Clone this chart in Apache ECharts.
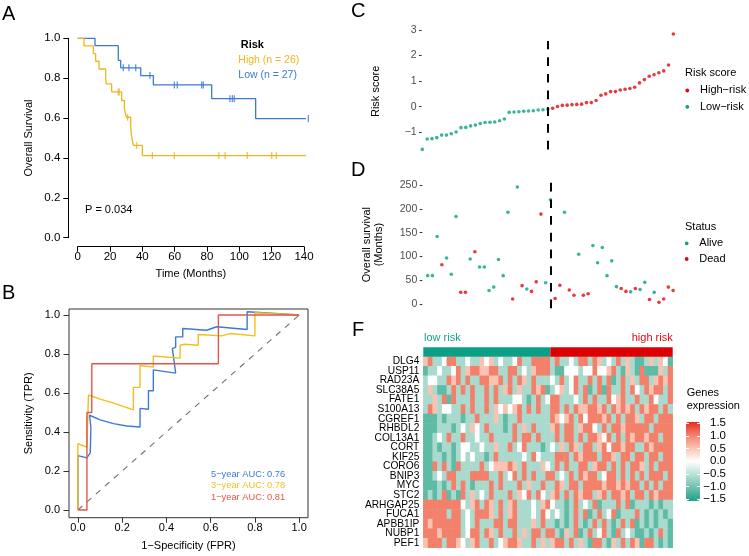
<!DOCTYPE html>
<html><head><meta charset="utf-8">
<script src="https://cdn.jsdelivr.net/npm/echarts@6/dist/echarts.min.js"></script>
<style>html,body{margin:0;padding:0;background:#fff}#c{width:749px;height:556px}</style>
</head><body><div id="c"></div>
<script>
// ---------- Panel A: Kaplan-Meier ----------
const kmHighTime = [0, 3.9, 9.7, 11.1, 13.2, 17.3, 17.6, 21.0, 27.2, 28.9, 30.1, 32.8, 33.3, 34.4, 40.0, 142.7];
const kmHighSurv = [1, 0.962, 0.923, 0.885, 0.846, 0.808, 0.771, 0.731, 0.688, 0.645, 0.604, 0.556, 0.509, 0.463, 0.412, 0.412];
const kmHighCensTime = [25.1, 25.7, 30.9, 36.5, 46.2, 59.8, 87.3, 91.2, 104.9, 120.0, 122.9];
const kmHighCensSurv = [0.731, 0.731, 0.604, 0.463, 0.412, 0.412, 0.412, 0.412, 0.412, 0.412, 0.412];
const kmLowTime = [0, 10.7, 25.1, 26.6, 39.0, 46.8, 82.9, 110.1, 142.7];
const kmLowSurv = [1, 0.963, 0.889, 0.852, 0.813, 0.766, 0.697, 0.597, 0.597];
const kmLowCensTime = [28.2, 31.7, 35.9, 44.7, 59.8, 61.6, 76.7, 77.7, 94.2, 95.7, 96.9, 142.7];
const kmLowCensSurv = [0.852, 0.852, 0.852, 0.813, 0.766, 0.766, 0.766, 0.766, 0.697, 0.697, 0.697, 0.597];

// ---------- Panel B: ROC ----------
const roc5Fpr = [0, 0, 0.041, 0.056, 0.059, 0.053, 0.101, 0.161, 0.221, 0.281, 0.281, 0.319, 0.319, 0.341, 0.341, 0.442, 0.427, 0.442, 0.442, 0.474, 0.474, 0.582, 0.627, 0.765, 0.765, 0.838, 1];
const roc5Tpr = [0, 0.279, 0.267, 0.293, 0.422, 0.486, 0.462, 0.443, 0.431, 0.426, 0.521, 0.517, 0.612, 0.612, 0.719, 0.702, 0.828, 0.836, 0.888, 0.888, 0.931, 0.922, 0.940, 0.926, 1.017, 1.012, 1];
const roc3Fpr = [0, 0, 0.041, 0.048, 0.101, 0.176, 0.251, 0.251, 0.281, 0.281, 0.341, 0.341, 0.462, 0.462, 0.484, 0.544, 0.544, 0.65, 0.687, 0.8, 0.8, 1];
const roc3Tpr = [0, 0.34, 0.322, 0.59, 0.569, 0.543, 0.514, 0.629, 0.629, 0.741, 0.733, 0.79, 0.779, 0.845, 0.85, 0.845, 0.9, 0.893, 0.905, 0.893, 1.012, 1];
const roc1Fpr = [0, 0.041, 0.041, 0.063, 0.063, 0.635, 0.635, 1];
const roc1Tpr = [0, 0, 0.5, 0.5, 0.75, 0.75, 1, 1];
const rocTicks = [0, 0.2, 0.4, 0.6, 0.8, 1.0];
const aucLabels = ['5\u2212year AUC: 0.76', '3\u2212year AUC: 0.78', '1\u2212year AUC: 0.81'];

// ---------- Panel C: risk score ----------
const lowRiskScore = [-1.67,-1.26,-1.25,-1.21,-1.11,-1.11,-1.06,-0.99,-0.82,-0.81,-0.75,-0.72,-0.66,-0.62,-0.61,-0.60,-0.55,-0.48,-0.22,-0.21,-0.20,-0.18,-0.17,-0.16,-0.13,-0.12,-0.09];
const highRiskScore = [-0.06,0.01,0.05,0.06,0.08,0.09,0.10,0.16,0.16,0.24,0.45,0.50,0.59,0.59,0.65,0.68,0.71,0.76,0.93,1.06,1.19,1.25,1.33,1.40,1.63,2.84];
const riskTicks = [-1, 0, 1, 2, 3];

// ---------- Panel D: survival status ----------
const survMonths = [60,60,142,83,97,63,184,25,25,95,110,78,78,29,36,94,60,193,11,246,39,32,27,47,189,45,219,12,40,193,30,19,105,19,22,123,87,119,60,91,37,33,27,26,33,31,46,10,25,4,11,36,29];
const survStatus = [0,0,0,1,0,0,0,1,1,0, 1,0,0,0,0,0,0,0,1,0, 1,0,1,1,1,0,0,1,1,0, 1,1,0,1,1,0,0,0,0,0, 0,1,1,0,1,0,0,1,0,1, 1,1,1];
const survTicks = [0, 50, 100, 150, 200, 250];

// ---------- Panel F: heatmap ----------
const genes = ['DLG4','USP11','RAD23A','SLC38A5','FATE1','S100A13','CGREF1','RHBDL2','COL13A1','CORT','KIF25','CORO6','BNIP3','MYC','STC2','ARHGAP25','FUCA1','APBB1IP','NUBP1','PEF1'];
const exprDLG4 = [0.5,1,-0.6,-0.6,0,1,1,-0.6,-0.6,0,-0.6,-0.6,0.5,0,0.5,-0.6,0,-0.6,-0.6,0,1,-0.6,-0.6,1,1,1,1,-0.6,1,-0.6,-0.6,0,-0.6,1,1,-0.6,1,0.5,-0.6,0,-0.6,1,-0.6,0.5,-0.6,-1.1,-1.1,-0.6,0.5,-0.6,0.5,0,-1.1];
const exprUSP11 = [-1.1,-0.6,-0.6,0,-0.6,-0.6,0,1,-0.6,0.5,1,1,0.5,0.5,1,1,-0.6,-0.6,1,1,-0.6,0,-0.6,0.5,1,1,1,-0.6,-1.1,-1.1,0,0,0,-0.6,0,0,1,0,0,0.5,1,-0.6,-1.1,0.5,-0.6,-1.1,1,-1.1,-1.1,-1.1,0.5,-0.6,1];
const exprRAD23A = [-0.6,0,0,-0.6,-0.6,1,0.5,1,-0.6,1,-0.6,-0.6,1,1,0.5,0.5,1,-0.6,1,-0.6,1,0.5,-0.6,1,-0.6,-0.6,-0.6,0,-0.6,1,-0.6,0,1,-0.6,-0.6,1,-0.6,1,-0.6,1,-1.1,-0.6,1,-0.6,0.5,-0.6,1,1,-0.6,0.5,1,0.5,1];
const exprSLC38A5 = [-0.6,0.5,-0.6,-1.1,-1.1,-0.6,1,-0.6,1,-0.6,1,-0.6,-0.6,1,-0.6,1,-0.6,0.5,1,-0.6,0.5,-0.6,-0.6,1,0.5,1,-1.1,-0.6,0,0.5,-0.6,0,1,-0.6,1,-1.1,-0.6,1,-1.1,1,-0.6,-0.6,1,-0.6,1,0,-0.6,1,0.5,1,1,-0.6,1];
const exprFATE1 = [-0.6,-0.6,0.5,-0.6,1,-1.1,1,-0.6,-0.6,-0.6,1,-0.6,-0.6,1,-0.6,1,-0.6,-0.6,-0.6,0,0,-0.6,-1.1,-0.6,1,-0.6,0,1,1,-0.6,-0.6,-0.6,0,-0.6,1,-0.6,1,-0.6,-0.6,1,0,0.5,1,-0.6,-0.6,1,-0.6,-0.6,1,0,-0.6,-0.6,1];
const exprS100A13 = [-0.6,1,0.5,-0.6,0,0,-0.6,-0.6,1,-0.6,1,-0.6,-0.6,1,-0.6,0.5,0,0.5,0,0.5,1,-0.6,1,-0.6,1,-0.6,-0.6,1,1,-0.6,1,-0.6,1,0.5,0.5,1,1,0.5,1,-0.6,1,0.5,1,0.5,1,-0.6,1,0.5,1,1,-0.6,1,-0.6];
const exprCGREF1 = [-1.1,-1.1,-1.1,-0.6,-1.1,-0.6,-0.6,-0.6,-1.1,-0.6,-0.6,1,-0.6,-0.6,-0.6,0.5,-0.6,-1.1,-0.6,-0.6,1,-0.6,-0.6,-0.6,-0.6,-0.6,-0.6,1,0.5,0,0.5,1,-0.6,1,0,1,1,1,0.5,1,-0.6,1,-0.6,1,1,0.5,-0.6,1,1,-0.6,1,1,1];
const exprRHBDL2 = [-1.1,-1.1,-1.1,-0.6,-0.6,-0.6,-1.1,-0.6,0,-0.6,0.5,0,-0.6,1,-0.6,-0.6,-0.6,-1.1,-0.6,1,-0.6,0.5,-0.6,1,-0.6,-0.6,-0.6,0.5,1,-0.6,1,1,-0.6,0.5,1,1,0,-0.6,1,-0.6,1,1,0.5,1,1,1,1,1,-0.6,1,1,1,1];
const exprCOL13A1 = [-1.1,-1.1,-0.6,0,-0.6,1,-0.6,-0.6,1,-0.6,-0.6,0,-0.6,-0.6,1,-0.6,-0.6,-0.6,-0.6,1,-0.6,1,1,-0.6,1,-0.6,-0.6,-0.6,1,-0.6,1,1,-0.6,1,-0.6,1,1,0.5,0,1,-0.6,1,-0.6,1,0.5,1,1,0.5,1,1,-0.6,1,1];
const exprCORT = [-1.1,-1.1,-0.6,-1.1,-0.6,-0.6,-1.1,-0.6,0,0,-0.6,-0.6,0,-0.6,-0.6,0.5,-0.6,-0.6,1,-0.6,0,1,-0.6,-0.6,-0.6,-1.1,-0.6,0,-0.6,0.5,-0.6,1,0.5,-0.6,1,1,-0.6,0.5,1,0,1,1,0.5,1,1,-0.6,-0.6,1,0.5,1,1,1,1];
const exprKIF25 = [-1.1,-1.1,-0.6,-0.6,-1.1,-0.6,-1.1,-0.6,0,-0.6,0,-0.6,-0.6,-1.1,-0.6,1,-0.6,-0.6,-0.6,-0.6,-0.6,0,-0.6,1,0,-0.6,-0.6,-0.6,1,1,1,-0.6,1,0.5,1,1,1,-0.6,1,1,0.5,-0.6,1,1,-0.6,1,1,-0.6,1,1,-0.6,1,1];
const exprCORO6 = [-1.1,-1.1,1,-0.6,1,-0.6,-1.1,1,-0.6,-0.6,-0.6,-0.6,1,-0.6,0,0.5,0.5,0.5,1,0.5,-0.6,1,-0.6,-0.6,-0.6,0.5,0,-0.6,1,-0.6,1,-0.6,-0.6,1,1,-0.6,0.5,1,1,-0.6,1,-0.6,1,-0.6,1,1,0.5,-0.6,1,-0.6,1,1,1];
const exprBNIP3 = [-1.1,-1.1,-0.6,0,-0.6,1,1,-0.6,-0.6,-0.6,1,1,1,1,-0.6,-0.6,1,-0.6,0,1,-0.6,1,-0.6,1,-0.6,-0.6,1,1,-0.6,0,-0.6,1,-0.6,1,0.5,1,1,-0.6,0,1,1,-0.6,1,-0.6,1,-0.6,1,-0.6,1,1,1,-0.6,1];
const exprMYC = [-1.1,-1.1,-1.1,-0.6,-1.1,-0.6,1,-0.6,1,-0.6,-1.1,-0.6,-0.6,-0.6,1,-0.6,1,-0.6,-0.6,-0.6,1,-0.6,0.5,-0.6,-0.6,1,-0.6,-0.6,1,0.5,-0.6,1,1,-0.6,1,1,1,1,0.5,1,1,0.5,1,0.5,1,1,-0.6,1,-0.6,1,-0.6,1,1];
const exprSTC2 = [-1.1,-0.6,-1.1,-0.6,1,-1.1,-0.6,-1.1,1,-0.6,0.5,-0.6,0,-0.6,1,-0.6,-0.6,-0.6,1,-0.6,0.5,0,1,-0.6,1,0,-0.6,0.5,1,-0.6,1,-0.6,1,0.5,1,1,-0.6,0.5,1,-0.6,1,1,0.5,1,-0.6,1,1,-0.6,1,0.5,1,1,1];
const exprARHGAP25 = [1,1,1,1,1,1,1,1,0,-0.6,0.5,1,-0.6,1,0.5,-0.6,1,-0.6,0.5,1,-0.6,-0.6,-0.6,0,-0.6,0.5,1,0,-0.6,-0.6,-1.1,-0.6,1,-0.6,0,-0.6,1,-1.1,-0.6,-0.6,-0.6,1,-0.6,1,-1.1,-0.6,-0.6,-0.6,-1.1,-0.6,-1.1,-0.6,-0.6];
const exprFUCA1 = [1,1,1,1,1,-0.6,1,1,-0.6,0,-0.6,1,1,1,0.5,-0.6,1,-0.6,0.5,1,-0.6,-0.6,-0.6,0,-0.6,1,0,-0.6,0,-0.6,-1.1,-0.6,1,-0.6,1,-1.1,-0.6,1,-0.6,0,1,-1.1,-0.6,-0.6,-0.6,1,-0.6,-1.1,-0.6,-1.1,-0.6,-1.1,-0.6];
const exprAPBB1IP = [1,0.5,1,1,1,1,1,1,-0.6,0,-0.6,1,-0.6,-0.6,-0.6,1,1,-0.6,1,1,-0.6,-0.6,-0.6,0.5,-0.6,1,-0.6,-0.6,-1.1,-0.6,-1.1,-0.6,1,-0.6,-1.1,-0.6,1,-0.6,1,-0.6,-1.1,-0.6,1,-0.6,1,-1.1,-0.6,-1.1,-0.6,-1.1,-0.6,-0.6,-1.1];
const exprNUBP1 = [1,1,1,0.5,1,1,1,1,-0.6,0,1,1,-0.6,1,0.5,-0.6,1,-0.6,-0.6,1,-0.6,0.5,-0.6,1,1,-0.6,1,1,-0.6,-1.1,0.5,-0.6,1,-1.1,-0.6,1,-0.6,0,1,-0.6,-1.1,1,-0.6,0,-0.6,-1.1,-1.1,-0.6,-1.1,-0.6,1,-0.6,-1.1];
const exprPEF1 = [0.5,1,1,1,-0.6,1,1,0.5,0,-0.6,0.5,1,-0.6,-0.6,1,-0.6,0,0.5,1,1,0.5,-0.6,-0.6,1,-0.6,0.5,-0.6,0.5,1,1,-0.6,1,-0.6,0.5,-0.6,-1.1,1,1,-0.6,-1.1,0.5,-0.6,1,-0.6,1,0.5,-1.1,1,1,-0.6,-1.1,-0.6,-1.1];

// ================= rendering =================
const FONT = "'Liberation Sans', Arial, Helvetica, sans-serif";
const cYellow = '#EBB81C', cBlue = '#3B7BCF';
const rBlue = '#3A7BD5', rYellow = '#F2BE1D', rRed = '#E0574B';
const teal = '#0BA085', red = '#E3070E';
const exprRows = [exprDLG4,exprUSP11,exprRAD23A,exprSLC38A5,exprFATE1,exprS100A13,exprCGREF1,exprRHBDL2,exprCOL13A1,exprCORT,exprKIF25,exprCORO6,exprBNIP3,exprMYC,exprSTC2,exprARHGAP25,exprFUCA1,exprAPBB1IP,exprNUBP1,exprPEF1];
const nSamples = lowRiskScore.length + highRiskScore.length;
const cutIdx = lowRiskScore.length - 1;
const zip = (a, b) => a.map((v, i) => [v, b[i]]);
const minus = v => String(v).replace('-', '\u2212');

const heatData = [];
exprRows.forEach((row, r) => row.forEach((v, c) => heatData.push([c, r, v])));
const colIdx = Array.from({length: nSamples}, (_, i) => String(i));

const riskLow = lowRiskScore.map((v, i) => [i, v]);
const riskHigh = highRiskScore.map((v, i) => [i + lowRiskScore.length, v]);
const alive = [], dead = [];
survMonths.forEach((m, i) => (survStatus[i] ? dead : alive).push([i, m]));

function T(x, y, text, o) {
  o = o || {};
  return {type: 'text', x: x, y: y, silent: true, z: 100, style: {
    text: text, fill: o.fill || '#000', fontSize: o.size || 11, fontFamily: FONT,
    fontWeight: o.weight || 'normal', textAlign: o.align || 'left', textVerticalAlign: 'middle'}};
}
function dot(x, y, c) { return {type: 'circle', shape: {cx: x, cy: y, r: 1.9}, style: {fill: c}, silent: true, z: 100}; }
const nameStyle = {color: '#000', fontSize: 11, fontFamily: FONT};
const noSplit = {show: false};

const option = {
  animation: false,
  textStyle: {fontFamily: FONT},
  grid: [
    {left: 77.7, top: 38.3, width: 226.3, height: 199.4},
    {left: 69, top: 309, width: 239, height: 208.7, show: true, borderColor: '#333', borderWidth: 1, backgroundColor: 'transparent'},
    {left: 421.6, top: 27.4, width: 254.4, height: 127.9},
    {left: 422.3, top: 179.3, width: 253.4, height: 130.7},
    {left: 423.3, top: 347.3, width: 249.4, height: 9.4},
    {left: 423.3, top: 356.7, width: 249.4, height: 191},
    {left: 686, top: 423.3, width: 14, height: 75.7}
  ],
  xAxis: [
    {gridIndex: 0, type: 'value', min: 0, max: 140, interval: 20, offset: 9,
      axisLine: {show: true, onZero: false, lineStyle: {color: '#000', width: 1}},
      axisTick: {show: true, length: 5, lineStyle: {color: '#000'}},
      axisLabel: {color: '#000', fontSize: 11.5, margin: 4}, splitLine: noSplit,
      name: 'Time (Months)', nameLocation: 'middle', nameGap: 22, nameTextStyle: nameStyle},
    {gridIndex: 1, type: 'value', min: -0.04, max: 1.04,
      axisLine: {show: false, onZero: false},
      axisTick: {show: true, length: 5, customValues: rocTicks, lineStyle: {color: '#333'}},
      axisLabel: {customValues: rocTicks, formatter: v => v.toFixed(1), color: '#000', fontSize: 11, margin: 4.5},
      splitLine: noSplit, name: '1\u2212Specificity (FPR)', nameLocation: 'middle', nameGap: 23, nameTextStyle: nameStyle},
    {gridIndex: 2, type: 'value', min: -0.15, max: 52.55, show: false, splitLine: noSplit},
    {gridIndex: 3, type: 'value', min: -1.14, max: 52.55, show: false, splitLine: noSplit},
    {gridIndex: 4, type: 'value', min: 0, max: nSamples, show: false, splitLine: noSplit},
    {gridIndex: 5, type: 'category', data: colIdx, show: false},
    {gridIndex: 6, type: 'value', min: 0, max: 1, show: false, splitLine: noSplit}
  ],
  yAxis: [
    {gridIndex: 0, type: 'value', min: 0, max: 1, interval: 0.2, offset: 9.4,
      axisLine: {show: true, onZero: false, lineStyle: {color: '#000'}},
      axisTick: {show: true, length: 5, lineStyle: {color: '#000'}},
      axisLabel: {color: '#000', fontSize: 11.5, margin: 8, formatter: v => v.toFixed(1)}, splitLine: noSplit,
      name: 'Overall Survival', nameLocation: 'middle', nameGap: 34, nameTextStyle: nameStyle},
    {gridIndex: 1, type: 'value', min: -0.0395, max: 1.031,
      axisLine: {show: false, onZero: false},
      axisTick: {show: true, length: 5.5, customValues: rocTicks, lineStyle: {color: '#333'}},
      axisLabel: {customValues: rocTicks, formatter: v => v.toFixed(1), color: '#000', fontSize: 11, margin: 9},
      splitLine: noSplit, name: 'Sensitivity (TPR)', nameLocation: 'middle', nameGap: 35, nameTextStyle: nameStyle},
    {gridIndex: 2, type: 'value', min: -1.9, max: 3.1,
      axisLine: {show: false, onZero: false},
      axisTick: {show: true, length: 2.6, customValues: riskTicks, lineStyle: {color: '#333'}},
      axisLabel: {customValues: riskTicks, formatter: minus, color: '#4D4D4D', fontSize: 10.5, margin: 5},
      splitLine: noSplit, name: 'Risk score', nameLocation: 'middle', nameGap: 40, nameTextStyle: nameStyle},
    {gridIndex: 3, type: 'value', min: -12, max: 262,
      axisLine: {show: false, onZero: false},
      axisTick: {show: true, length: 2.6, customValues: survTicks, lineStyle: {color: '#333'}},
      axisLabel: {customValues: survTicks, color: '#4D4D4D', fontSize: 10.5, margin: 5},
      splitLine: noSplit, name: 'Overall survival\n(Months)', nameLocation: 'middle', nameGap: 38,
      nameTextStyle: {color: '#000', fontSize: 11, fontFamily: FONT, lineHeight: 11.6}},
    {gridIndex: 4, type: 'category', data: ['risk'], show: false},
    {gridIndex: 5, type: 'category', data: genes, inverse: true,
      axisLine: {show: false}, axisTick: {show: false},
      axisLabel: {color: '#000', fontSize: 10.2, margin: 4, interval: 0}},
    {gridIndex: 6, type: 'value', min: -1.5, max: 1.5, interval: 0.5, position: 'left', z: 10,
      axisLine: {show: false, onZero: false}, axisTick: {show: true, inside: true, length: 3, lineStyle: {color: '#fff', width: 1}},
      axisLabel: {show: false}, splitLine: noSplit},
    {gridIndex: 6, type: 'value', min: -1.5, max: 1.5, interval: 0.5, position: 'right', z: 10,
      axisLine: {show: false, onZero: false}, axisTick: {show: true, inside: true, length: 3, lineStyle: {color: '#fff', width: 1}},
      axisLabel: {show: true, color: '#000', fontSize: 11.5, margin: 26, align: 'right', formatter: v => minus(v.toFixed(1))},
      splitLine: noSplit}
  ],
  visualMap: {
    type: 'continuous', min: -1.5, max: 1.5, seriesIndex: 15, calculable: false,
    left: 686, top: 421.7, itemWidth: 14, itemHeight: 79.3, padding: 0, text: null,
    inRange: {color: ['#1FA187', '#6EC1AC', '#B9E0D5', '#FFFFFF', '#F9C3B3', '#F3806A', '#E42A20']}
  },
  series: [
    {type: 'line', xAxisIndex: 0, yAxisIndex: 0, step: 'end', clip: false, symbol: 'none',
      data: zip(kmHighTime, kmHighSurv), lineStyle: {color: cYellow, width: 1.3}, z: 3},
    {type: 'line', xAxisIndex: 0, yAxisIndex: 0, step: 'end', clip: false, symbol: 'none',
      data: zip(kmLowTime, kmLowSurv), lineStyle: {color: cBlue, width: 1.3}, z: 2},
    {type: 'scatter', xAxisIndex: 0, yAxisIndex: 0, clip: false, symbol: 'rect', symbolSize: [1.3, 7],
      data: zip(kmHighCensTime, kmHighCensSurv), itemStyle: {color: cYellow}, z: 3},
    {type: 'scatter', xAxisIndex: 0, yAxisIndex: 0, clip: false, symbol: 'rect', symbolSize: [1.3, 7],
      data: zip(kmLowCensTime, kmLowCensSurv), itemStyle: {color: cBlue}, z: 3},
    {type: 'line', xAxisIndex: 1, yAxisIndex: 1, symbol: 'none', data: [[0, 0], [1, 1]],
      lineStyle: {color: '#707070', width: 1.1, type: [6, 6]}, z: 1},
    {type: 'line', xAxisIndex: 1, yAxisIndex: 1, symbol: 'none', clip: false, data: zip(roc5Fpr, roc5Tpr),
      lineStyle: {color: rBlue, width: 1.4}, z: 2},
    {type: 'line', xAxisIndex: 1, yAxisIndex: 1, symbol: 'none', clip: false, data: zip(roc3Fpr, roc3Tpr),
      lineStyle: {color: rYellow, width: 1.4}, z: 3},
    {type: 'line', xAxisIndex: 1, yAxisIndex: 1, symbol: 'none', clip: false, data: zip(roc1Fpr, roc1Tpr),
      lineStyle: {color: rRed, width: 1.4}, z: 4},
    {type: 'scatter', xAxisIndex: 2, yAxisIndex: 2, symbolSize: 3.6, data: riskLow, itemStyle: {color: teal},
      markLine: {silent: true, symbol: ['none', 'none'], label: {show: false},
        lineStyle: {color: '#000', width: 2, type: [8.7, 8]},
        data: [[{coord: [cutIdx, -1.67]}, {coord: [cutIdx, 2.57]}]]}},
    {type: 'scatter', xAxisIndex: 2, yAxisIndex: 2, symbolSize: 3.6, data: riskHigh, itemStyle: {color: red}},
    {type: 'scatter', xAxisIndex: 3, yAxisIndex: 3, symbolSize: 3.6, data: alive, itemStyle: {color: teal},
      markLine: {silent: true, symbol: ['none', 'none'], label: {show: false},
        lineStyle: {color: '#000', width: 2, type: [8.7, 8]},
        data: [[{coord: [cutIdx, -8.4]}, {coord: [cutIdx, 255.7]}]]}},
    {type: 'scatter', xAxisIndex: 3, yAxisIndex: 3, symbolSize: 3.6, data: dead, itemStyle: {color: red}},
    {type: 'bar', xAxisIndex: 4, yAxisIndex: 4, stack: 'grp', barWidth: '100%', data: [lowRiskScore.length], itemStyle: {color: teal}},
    {type: 'bar', xAxisIndex: 4, yAxisIndex: 4, stack: 'grp', barWidth: '100%', data: [highRiskScore.length], itemStyle: {color: '#DC0000'}},
    {type: 'line', xAxisIndex: 6, yAxisIndex: 6, data: [], symbol: 'none'},
    {type: 'heatmap', xAxisIndex: 5, yAxisIndex: 5, data: heatData, itemStyle: {borderWidth: 0}}
  ],
  graphic: [
    T(2, 14.5, 'A', {size: 20}), T(2, 293, 'B', {size: 20}), T(351, 11, 'C', {size: 20}),
    T(351, 170, 'D', {size: 20}), T(352, 330, 'F', {size: 20}),
    T(240.7, 45, 'Risk', {weight: 'bold', size: 11}),
    T(238.3, 60, 'High (n = 26)', {fill: cYellow, size: 10.5}),
    T(238.3, 75, 'Low (n = 27)', {fill: cBlue, size: 10.5}),
    T(85, 210, 'P = 0.034', {size: 11}),
    T(211, 474, aucLabels[0], {fill: rBlue, size: 9.3}),
    T(211, 485.8, aucLabels[1], {fill: rYellow, size: 9.3}),
    T(211, 497.7, aucLabels[2], {fill: rRed, size: 9.3}),
    T(685, 73.3, 'Risk score', {size: 11}),
    dot(687.3, 90.5, red), T(700, 90, 'High\u2212risk', {size: 11}),
    dot(687.3, 106.8, teal), T(700, 106.5, 'Low\u2212risk', {size: 11}),
    T(685, 226.7, 'Status', {size: 11}),
    dot(686.7, 243.3, teal), T(699.3, 243.3, 'Alive', {size: 11}),
    dot(686.7, 259, red), T(699.3, 259, 'Dead', {size: 11}),
    T(424, 338.3, 'low risk', {fill: '#13A68A', size: 11}),
    T(672.7, 338.3, 'high risk', {fill: '#E30613', size: 11, align: 'right'}),
    T(686.7, 392.7, 'Genes', {size: 11}),
    T(686.7, 406, 'expression', {size: 11})
  ]
};
const chart = echarts.init(document.getElementById('c'), null, {renderer: 'canvas'});
chart.setOption(option);
</script></body></html>
